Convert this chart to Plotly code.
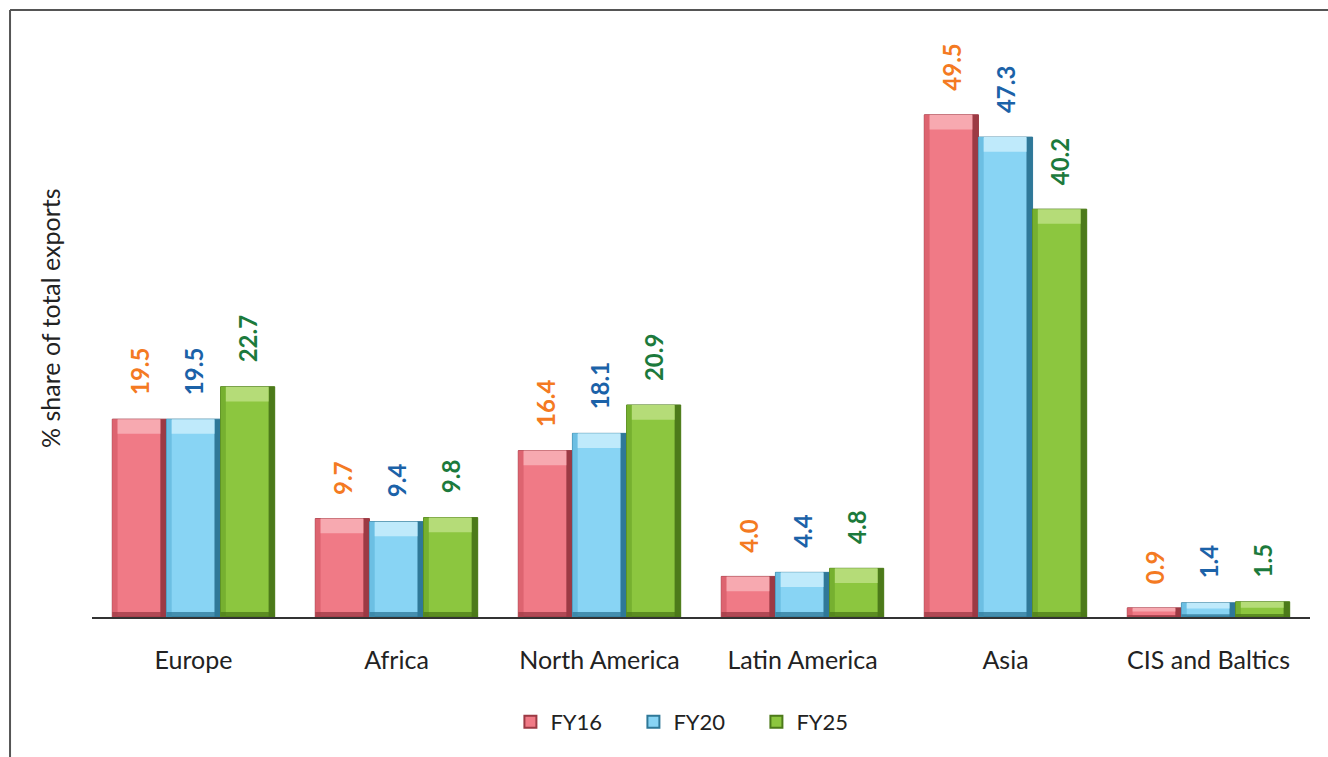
import plotly.graph_objects as go

# Regional share of total exports
regions = ["Europe", "Africa", "North America", "Latin America", "Asia", "CIS and Baltics"]
series_names = ["FY16", "FY20", "FY25"]
fy16 = [19.5, 9.7, 16.4, 4.0, 49.5, 0.9]
fy20 = [19.5, 9.4, 18.1, 4.4, 47.3, 1.4]
fy25 = [22.7, 9.8, 20.9, 4.8, 40.2, 1.5]
values = [fy16, fy20, fy25]

# body, highlight, shade, label colour for each series
body = ["#f07a86", "#88d4f4", "#8cc63f"]
light = ["#f7a9b0", "#bfeafb", "#b5dc78"]
side = ["#dd6470", "#6cbfe3", "#76b030"]
dark = ["#9c3a44", "#2f7898", "#4c7a1a"]
label_col = ["#f47a22", "#1b62a8", "#1c7a3c"]

FONT = "Lato, 'Open Sans', sans-serif"
n_series = len(series_names)
group = 0.8
w = group / n_series
x_idx = list(range(len(regions)))

fig = go.Figure()

for k in range(n_series):
    vals = values[k]
    off = -group / 2 + k * w
    # main bar body
    fig.add_trace(go.Bar(
        x=x_idx, y=vals, offset=off, width=w, name=series_names[k],
        marker=dict(color=body[k], line=dict(color=dark[k], width=1)),
        legendgroup=series_names[k], showlegend=True, hoverinfo="skip",
    ))
    # left shaded edge
    fig.add_trace(go.Bar(
        x=x_idx, y=vals, offset=off, width=0.026,
        marker=dict(color=side[k], line=dict(width=0)),
        legendgroup=series_names[k], showlegend=False, hoverinfo="skip",
    ))
    # right dark edge
    fig.add_trace(go.Bar(
        x=x_idx, y=vals, offset=off + w - 0.03, width=0.03,
        marker=dict(color=dark[k], line=dict(width=0)),
        legendgroup=series_names[k], showlegend=False, hoverinfo="skip",
    ))
    # top highlight bevel
    top_h = [min(1.45, 0.4 * v) for v in vals]
    fig.add_trace(go.Bar(
        x=x_idx, y=top_h, base=[v - t for v, t in zip(vals, top_h)],
        offset=off + 0.026, width=w - 0.056,
        marker=dict(color=light[k], line=dict(width=0)),
        legendgroup=series_names[k], showlegend=False, hoverinfo="skip",
    ))
    # bottom dark bevel
    bot_h = [min(0.5, 0.2 * v) for v in vals]
    fig.add_trace(go.Bar(
        x=x_idx, y=bot_h, base=[0] * len(vals),
        offset=off, width=w,
        marker=dict(color=dark[k], line=dict(width=0), opacity=0.75),
        legendgroup=series_names[k], showlegend=False, hoverinfo="skip",
    ))
    # value labels above each bar
    for i, v in enumerate(vals):
        fig.add_annotation(
            x=i + off + w / 2, y=v, xref="x", yref="y",
            text=f"<b>{v:.1f}</b>", textangle=-90, showarrow=False,
            xanchor="center", yanchor="bottom", yshift=22,
            font=dict(family=FONT, size=24, color=label_col[k]),
        )

# y-axis title
fig.add_annotation(
    x=-0.0345, y=0.536, xref="paper", yref="paper",
    text="% share of total exports", textangle=-90, showarrow=False,
    xanchor="center", yanchor="middle",
    font=dict(family=FONT, size=25, color="#222222"),
)

# outer frame (top and left)
fig.add_shape(type="line", xref="paper", yref="paper",
              x0=-0.0673, x1=1.02, y0=1.0878, y1=1.0878,
              line=dict(color="#555555", width=2))
fig.add_shape(type="line", xref="paper", yref="paper",
              x0=-0.0673, x1=-0.0673, y0=1.0878, y1=-0.3,
              line=dict(color="#555555", width=2))

fig.update_layout(
    width=1328, height=757,
    margin=dict(l=92, r=18, t=59, b=140),
    paper_bgcolor="white", plot_bgcolor="white",
    barmode="overlay",
    font=dict(family=FONT, size=22, color="#222222"),
    xaxis=dict(
        range=[-0.5, 5.5], tickmode="array", tickvals=x_idx, ticktext=regions,
        showline=True, linecolor="#333333", linewidth=2,
        ticks="outside", ticklen=20, tickcolor="rgba(0,0,0,0)",
        showgrid=False, zeroline=False, fixedrange=True,
        tickfont=dict(family=FONT, size=25, color="#222222"),
    ),
    yaxis=dict(
        range=[0, 55], showticklabels=False, showgrid=False,
        zeroline=False, showline=False, ticks="", fixedrange=True,
    ),
    legend=dict(
        orientation="h", x=0.495, y=-0.188, xanchor="center", yanchor="middle",
        font=dict(family=FONT, size=22, color="#222222"),
        entrywidth=78, entrywidthmode="pixels", itemsizing="constant",
    ),
    showlegend=True,
)

fig.write_html("out.html")
